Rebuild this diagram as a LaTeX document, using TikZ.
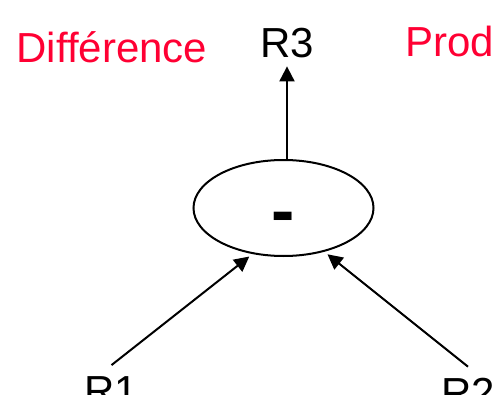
\documentclass[tikz,border=0pt]{standalone}
\usepackage{fontspec}
\setmainfont{Liberation Sans}
\usetikzlibrary{positioning,calc,arrows.meta,shapes.geometric}
\definecolor{opred}{RGB}{255,0,51}

\begin{document}
\begin{tikzpicture}[x=1pt,y=1pt,>={Triangle[length=15pt,width=15pt]},line width=2pt,
    reg node/.style={font=\fontsize{42}{50}\selectfont,inner sep=10pt,anchor=base},
    title node/.style={font=\fontsize{42}{50}\selectfont,text=opred,inner sep=0pt,anchor=base west},
    op node/.style={ellipse,draw,minimum width=180pt,minimum height=96pt,inner sep=0pt,
      text height=53pt,text depth=0pt,font=\fontsize{70}{70}\selectfont\bfseries}]
    \useasboundingbox (0,0) rectangle (494,394);
    % nodes
      \node[op node] (op) at (283.5,186) {-};
      \node[reg node,inner sep=6pt] (R3) at (287,336) {R3};
      \node[reg node] (R1) at (111.5,-11) {R1};
      \node[reg node] (R2) at (468,-13) {R2};
      \node[title node] (diff) at (15.5,331) {Différence};
      \node[title node] (prod) at (404.5,337) {Prod};
      %edges
      \path[->,shorten >=4pt]
        (R1.north) edge (op.-124)
        (R2.north) edge (op.-47);
      \draw[->,shorten >=1pt] (R3 |- op.north) -- (R3.south);
\end{tikzpicture}
\end{document}
